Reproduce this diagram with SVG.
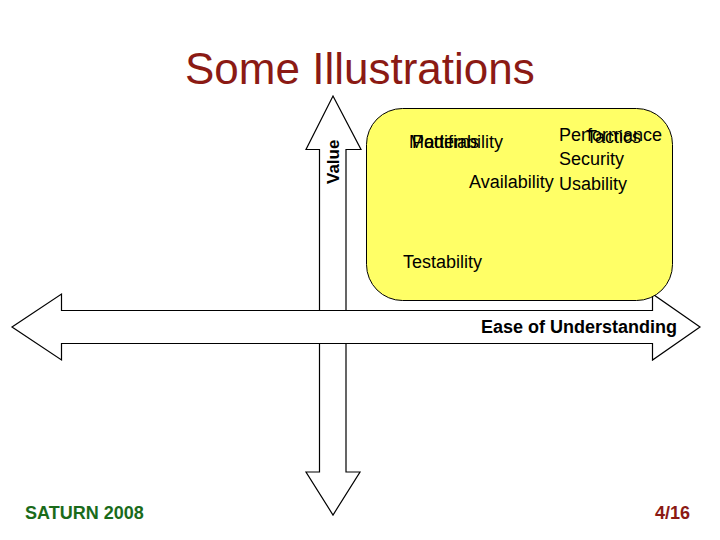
<svg xmlns="http://www.w3.org/2000/svg" width="720" height="540" viewBox="0 0 720 540">
<style>
.arrow{fill:#fff;stroke:#000;stroke-width:1.2}
.t{font-family:"Liberation Sans",Arial,sans-serif;font-size:18px;fill:#000}
.b{font-weight:bold}
</style>
<rect width="720" height="540" fill="#fff"/>
<text x="185" y="84" style="font-family:'Liberation Sans',Arial,sans-serif;font-size:44px;fill:#8b1a14">Some Illustrations</text>
<g id="connectors">
<path id="v-arrow" class="arrow" d="M333 96 L361 149.500 H346 V472 H360 L333 515 L306 472 H319.500 V149.500 H306 Z"/>
<path id="h-arrow" class="arrow" d="M12 327 L61.500 294 V310.500 H652.500 V294 L700 327 L652.500 360 V343.500 H61.500 V360 Z"/>
</g>
<g id="box">
<rect x="366.500" y="108.500" width="306" height="192" rx="36" ry="36" fill="#ffff66" stroke="#000" stroke-width="1"/>
</g>
<g id="labels">
<text class="t b" transform="translate(339 184) rotate(-90)" style="font-size:17px">Value</text>
<text class="t" x="409" y="148">Modifiability</text>
<text class="t" x="412" y="148">Patterns</text>
<text class="t" x="559" y="141">Performance</text>
<text class="t" x="586" y="143">Tactics</text>
<text class="t" x="559" y="165">Security</text>
<text class="t" x="469" y="188">Availability</text>
<text class="t" x="559" y="190">Usability</text>
<text class="t" x="403" y="268">Testability</text>
<text class="t b" x="481" y="333">Ease of Understanding</text>
</g>
<text x="25" y="519" style="font-family:'Liberation Sans',Arial,sans-serif;font-size:18px;font-weight:bold;fill:#1a6b1a">SATURN 2008</text>
<text x="690" y="519" text-anchor="end" style="font-family:'Liberation Sans',Arial,sans-serif;font-size:18px;font-weight:bold;fill:#8b1a14">4/16</text>
</svg>
